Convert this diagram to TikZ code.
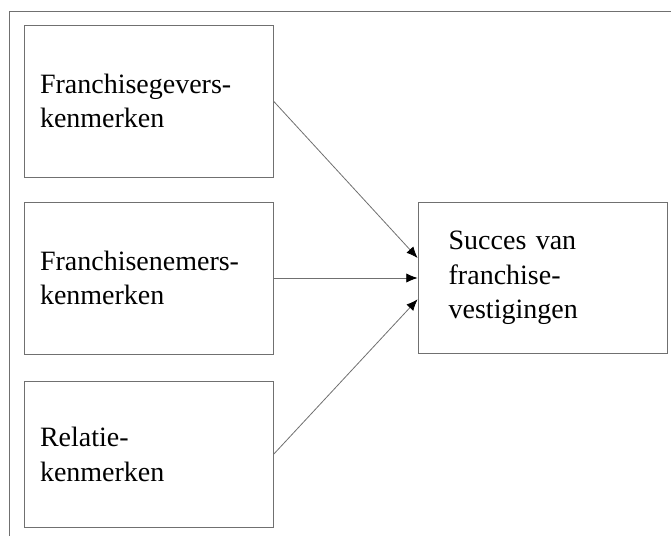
\documentclass[tikz,border=0pt]{standalone}
\usepackage{fontspec}
\setmainfont{Liberation Serif}
\usetikzlibrary{arrows.meta,positioning}
\definecolor{lineGray}{HTML}{707070}

\begin{document}
\begin{tikzpicture}[
    x=0.75pt, y=-0.75pt,
    font=\fontsize{21}{26}\selectfont,
    factorBox/.style={
        rectangle, draw=lineGray, line width=0.6pt,
        minimum width=186.75pt, minimum height=114pt,
        inner xsep=12pt, text width=162.75pt, align=left
    },
    resultBox/.style={
        rectangle, draw=lineGray, line width=0.6pt,
        minimum width=186.75pt, minimum height=113pt,
        inner xsep=23pt, text width=140.75pt, align=left
    },
    flow/.style={-{Latex[length=8.5pt,width=7pt,black]}, draw=lineGray, line width=0.6pt}
]
\useasboundingbox (0,0) rectangle (671,536);

% open frame: only top and left edges fall inside the page
\draw[lineGray, line width=0.6pt] (9,536) |- (671,11);

\node[factorBox] (Gever) at (148.5,101) {Franchisegevers-\\kenmerken};
\node[factorBox] (Nemer) at (148.5,278) {Franchisenemers-\\kenmerken};
\node[factorBox, minimum height=110pt] (Relatie) at (148.5,454.5) {Relatie-\\kenmerken};
\node[resultBox] (Succes) at (542.5,278) {Succes van\\franchise-\\vestigingen};

\draw[flow] (Gever.east) -- ([yshift=15pt]Succes.west);
\draw[flow] (Nemer.east) -- (Succes.west);
\draw[flow] (Relatie.east) -- ([yshift=-16pt]Succes.west);

\end{tikzpicture}
\end{document}
